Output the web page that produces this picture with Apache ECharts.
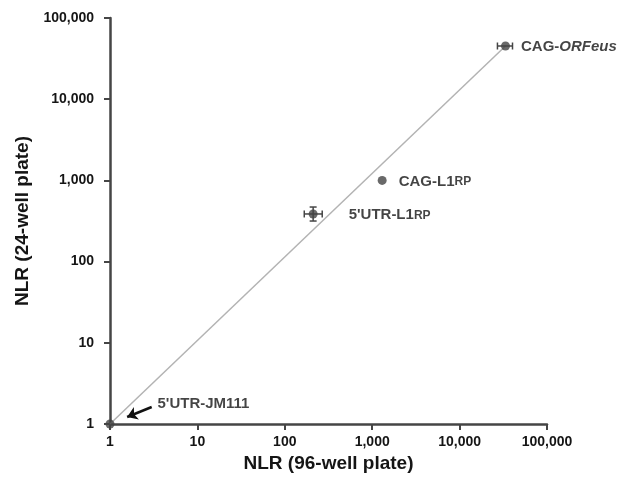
<!DOCTYPE html>
<html>
<head>
<meta charset="utf-8">
<script src="https://cdn.jsdelivr.net/npm/echarts@6/dist/echarts.min.js"></script>
<style>
html, body { margin: 0; background: #fff; }
#chart { width: 625px; height: 486px; }
</style>
</head>
<body>
<div id="chart"></div>
<script>
// construct names and values
const names = ["5'UTR-JM111", 'CAG-L1RP', "5'UTR-L1RP", 'CAG-ORFeus'];
const nlr96 = [1, 1300, 211, 33500];
const nlr24 = [1, 1000, 386, 45200];
const nlr96Low = [1, 1300, 167, 27100];
const nlr96High = [1, 1300, 268, 40300];
const nlr24Low = [1, 1000, 316, 45200];
const nlr24High = [1, 1000, 470, 45200];
// arrow pointing at the 5'UTR-JM111 point (data units)
const arrowFrom = [3.0, 1.62];
const arrowTo = [1.57, 1.22];

const font = '"Liberation Sans", Arial, sans-serif';
const dark = '#454545';
const txt = '#151515';

const richNames = {
    "5'UTR-JM111": "{t|5'UTR-JM111}",
    'CAG-L1RP': '{t|CAG-L1}{s|RP}',
    "5'UTR-L1RP": "{t|5'UTR-L1}{s|RP}",
    'CAG-ORFeus': '{t|CAG-}{i|ORFeus}'
};
const labelPos = [
    { distance: 5, offset: [38, -21] },
    { distance: 12, offset: [0, 0] },
    { distance: 31, offset: [0, 0] },
    { distance: 11, offset: [0, 0] }
];

const fmt = v => Number(v).toLocaleString('en-US');

const points = names.map((n, i) => ({
    name: n,
    value: [nlr96[i], nlr24[i]],
    label: labelPos[i]
}));
const bars = names.map((n, i) => [nlr96[i], nlr24[i], nlr96Low[i], nlr96High[i], nlr24Low[i], nlr24High[i]]);
const last = names.length - 1;

const myChart = echarts.init(document.getElementById('chart'));
const axisCommon = {
    type: 'log',
    logBase: 10,
    min: 1,
    max: 100000,
    nameLocation: 'middle',
    nameTextStyle: { fontSize: 19, fontWeight: 'bold', color: txt, fontFamily: font },
    axisLine: { lineStyle: { color: dark, width: 2.5 } },
    axisTick: { length: 6, lineStyle: { color: dark, width: 2 } },
    splitLine: { show: false },
    minorTick: { show: false }
};
const option = {
    animation: false,
    textStyle: { fontFamily: font },
    grid: { left: 110, right: 78, top: 18, bottom: 62 },
    xAxis: Object.assign({}, axisCommon, {
        name: 'NLR (96-well plate)',
        nameGap: 30,
        axisLabel: { margin: 11, fontSize: 14, fontWeight: 'bold', color: txt, formatter: fmt }
    }),
    yAxis: Object.assign({}, axisCommon, {
        name: 'NLR (24-well plate)',
        nameGap: 77,
        axisLabel: { margin: 16, fontSize: 14, fontWeight: 'bold', color: txt, formatter: fmt }
    }),
    series: [
        {
            type: 'line',
            symbol: 'none',
            silent: true,
            z: 1,
            lineStyle: { color: '#b3b3b3', width: 1.5 },
            data: [[nlr96[0], nlr24[0]], [nlr96[last], nlr24[last]]]
        },
        {
            type: 'custom',
            z: 3,
            encode: { x: 0, y: 1 },
            renderItem: (params, api) => {
                const y = api.value(1), x = api.value(0);
                const a = api.coord([api.value(2), y]);
                const b = api.coord([api.value(3), y]);
                const c = api.coord([x, api.value(4)]);
                const d = api.coord([x, api.value(5)]);
                const st = { stroke: dark, lineWidth: 1.5 };
                const kids = [];
                const cap = 3.5;
                if (Math.abs(b[0] - a[0]) > 1) {
                    kids.push({ type: 'line', shape: { x1: a[0], y1: a[1], x2: b[0], y2: b[1] }, style: st });
                    kids.push({ type: 'line', shape: { x1: a[0], y1: a[1] - cap, x2: a[0], y2: a[1] + cap }, style: st });
                    kids.push({ type: 'line', shape: { x1: b[0], y1: b[1] - cap, x2: b[0], y2: b[1] + cap }, style: st });
                }
                if (Math.abs(d[1] - c[1]) > 1) {
                    kids.push({ type: 'line', shape: { x1: c[0], y1: c[1], x2: d[0], y2: d[1] }, style: st });
                    kids.push({ type: 'line', shape: { x1: c[0] - cap, y1: c[1], x2: c[0] + cap, y2: c[1] }, style: st });
                    kids.push({ type: 'line', shape: { x1: d[0] - cap, y1: d[1], x2: d[0] + cap, y2: d[1] }, style: st });
                }
                return { type: 'group', children: kids };
            },
            data: bars
        },
        {
            type: 'scatter',
            z: 4,
            clip: false,
            symbol: 'circle',
            symbolSize: 9,
            itemStyle: { color: '#444' },
            label: {
                show: true,
                position: 'right',
                color: txt,
                formatter: p => richNames[p.name],
                rich: {
                    t: { fontSize: 15, fontWeight: 'bold', color: txt, fontFamily: font, lineHeight: 17, verticalAlign: 'bottom' },
                    s: { fontSize: 12, fontWeight: 'bold', color: txt, fontFamily: font, lineHeight: 17, verticalAlign: 'bottom', padding: [0, 0, 1, 0] },
                    i: { fontSize: 15, fontWeight: 'bold', fontStyle: 'italic', color: txt, fontFamily: font, lineHeight: 17, verticalAlign: 'bottom' }
                }
            },
            data: points
        },
        {
            type: 'lines',
            coordinateSystem: 'cartesian2d',
            z: 5,
            symbol: ['none', 'arrow'],
            symbolSize: 10,
            lineStyle: { color: '#111', width: 2.5, opacity: 1 },
            data: [{ coords: [arrowFrom, arrowTo] }]
        }
    ]
};
myChart.setOption(option);
</script>
</body>
</html>
